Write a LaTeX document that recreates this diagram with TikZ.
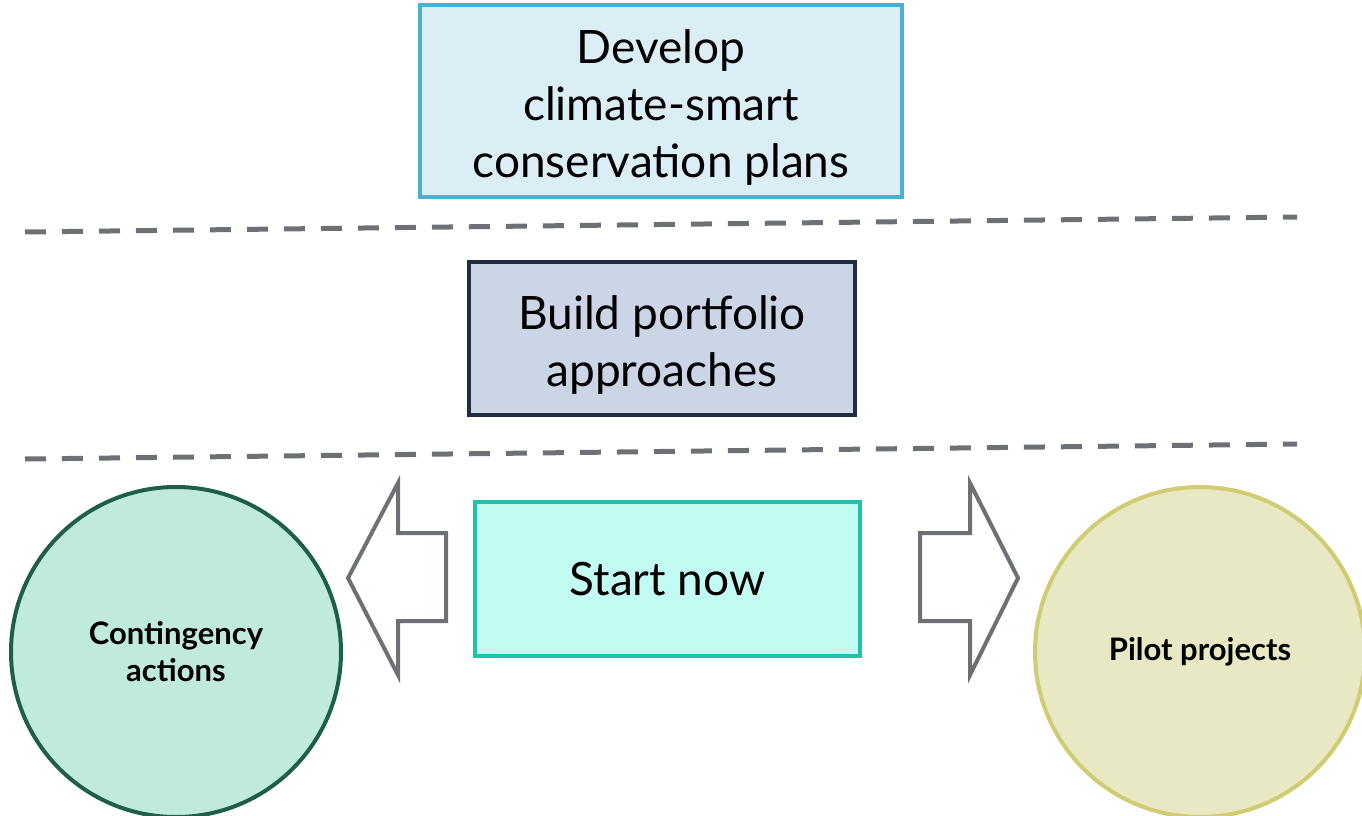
\documentclass[tikz,border=0pt]{standalone}
\usepackage{fontspec}
\setmainfont{Lato}
\definecolor{planfill}{HTML}{DCEEF5}
\definecolor{planline}{HTML}{4BAFD0}
\definecolor{portfill}{HTML}{CBD5E6}
\definecolor{portline}{HTML}{1F2D44}
\definecolor{startfill}{HTML}{C2FBF2}
\definecolor{startline}{HTML}{1CC4A8}
\definecolor{contfill}{HTML}{C0EBDC}
\definecolor{contline}{HTML}{1D6047}
\definecolor{pilotfill}{HTML}{E8E8C4}
\definecolor{pilotline}{HTML}{CFCC72}
\definecolor{arrowgray}{HTML}{6D7075}
\newcommand{\dropstrut}{\rule{0pt}{46pt}}
\tikzset{
  stagebox/.style={draw, rectangle, line width=4pt, align=center,
    font=\fontsize{46}{57}\selectfont, inner sep=0pt},
  actioncircle/.style={draw, circle, line width=4pt, align=center,
    minimum size=330pt, inner sep=0pt,
    font=\fontsize{31}{37}\selectfont\bfseries},
  divider/.style={arrowgray, line width=5pt, dash pattern=on 21pt off 16pt},
  blockarrow/.style={draw=arrowgray, fill=white, line width=4pt}
}

\begin{document}
\begin{tikzpicture}[x=1pt, y=-1pt]
  \useasboundingbox (0,0) rectangle (1362,816);

  \node (plan) [stagebox, fill=planfill, draw=planline,
     minimum width=482pt, minimum height=192pt] at (661,101)
     {\dropstrut Develop\\climate-smart\\conservation plans};
  \draw [divider] (25,232) -- (1297,217);

  \node (portfolio) [stagebox, fill=portfill, draw=portline,
     minimum width=386pt, minimum height=153pt] at (662,338.5)
     {\dropstrut Build portfolio\\approaches};
  \draw [divider] (25,459) -- (1297,444);

  \node (start) [stagebox, fill=startfill, draw=startline,
     minimum width=385pt, minimum height=154pt] at (667.5,579)
     {Start now};

  \node (contingency) [actioncircle, fill=contfill, draw=contline]
     at (176,652) {Contingency\\actions};
  \node (pilot) [actioncircle, fill=pilotfill, draw=pilotline]
     at (1200,652) {Pilot projects};

  \draw [blockarrow] (446,533) -- (398,533) -- (398,483) -- (348,578)
     -- (398,675) -- (398,621) -- (446,621) -- cycle;
  \draw [blockarrow] (920,533) -- (970,533) -- (970,483) -- (1018,578)
     -- (970,675) -- (970,621) -- (920,621) -- cycle;
\end{tikzpicture}
\end{document}
